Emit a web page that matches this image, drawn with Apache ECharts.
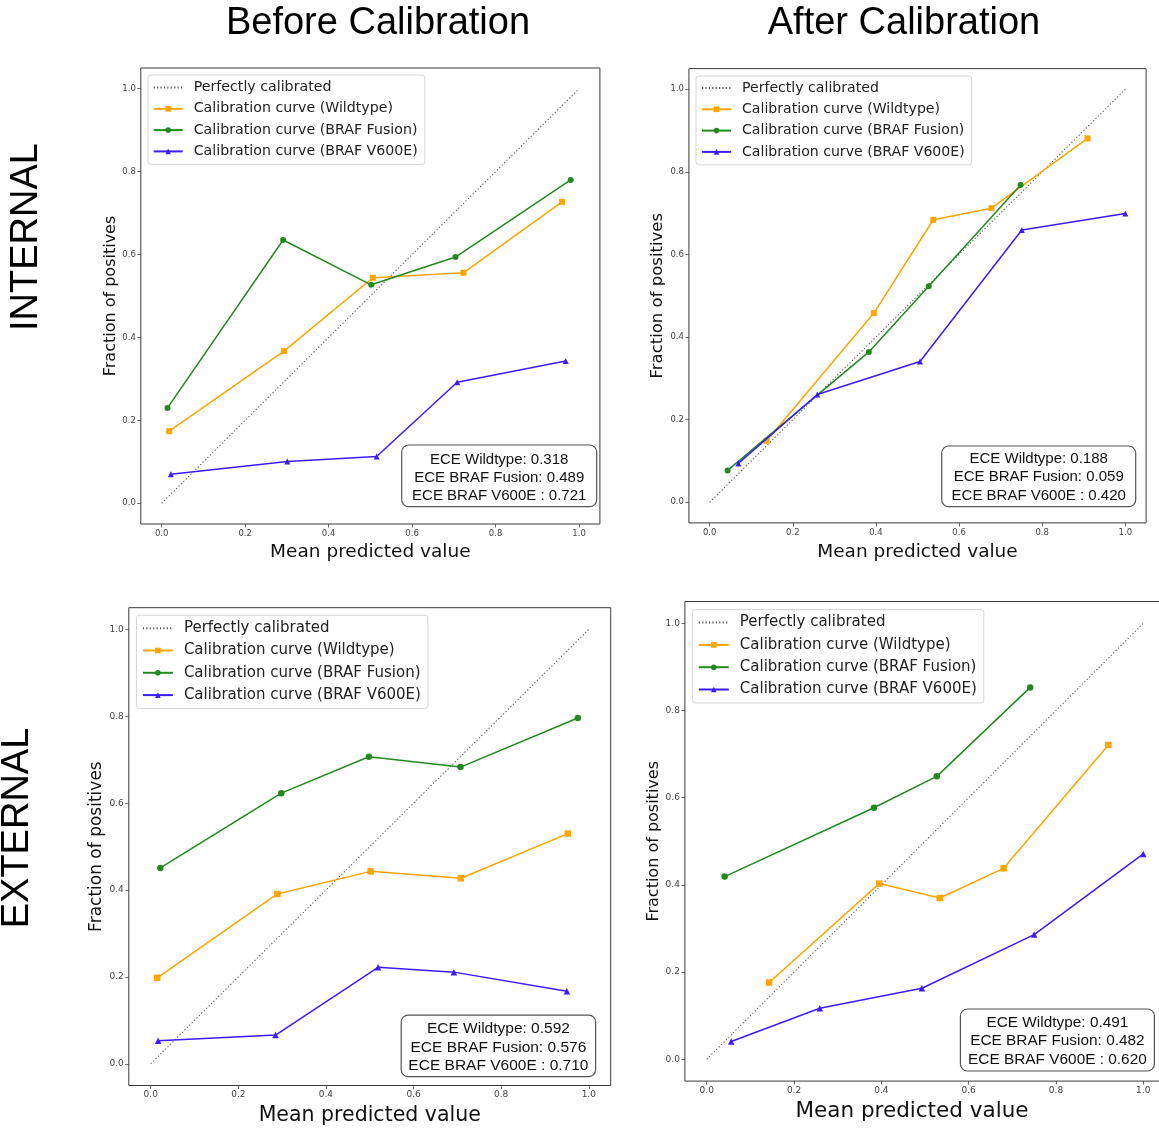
<!DOCTYPE html>
<html><head><meta charset="utf-8">
<script src="https://cdn.jsdelivr.net/npm/echarts@6/dist/echarts.min.js"></script>
<style>html,body{margin:0;padding:0;background:#fff;overflow:hidden}#c{width:1175px;height:1131px}</style>
</head><body><div id="c"></div>
<script>
// ---------- data ----------
const tickValues = [0, 0.2, 0.4, 0.6, 0.8, 1.0];
const seriesNames = ['Perfectly calibrated', 'Calibration curve (Wildtype)', 'Calibration curve (BRAF Fusion)', 'Calibration curve (BRAF V600E)'];
const columnTitles = ['Before Calibration', 'After Calibration'];
const rowTitles = ['INTERNAL', 'EXTERNAL'];
const xAxisName = 'Mean predicted value';
const yAxisName = 'Fraction of positives';
const perfectX = [0, 1];
const perfectY = [0, 1];

// Internal, before calibration
const intBeforeWildX = [0.018, 0.293, 0.506, 0.723, 0.959];
const intBeforeWildY = [0.174, 0.367, 0.544, 0.556, 0.727];
const intBeforeFusionX = [0.014, 0.291, 0.502, 0.704, 0.980];
const intBeforeFusionY = [0.230, 0.635, 0.527, 0.594, 0.780];
const intBeforeV600eX = [0.022, 0.301, 0.515, 0.708, 0.968];
const intBeforeV600eY = [0.070, 0.101, 0.113, 0.292, 0.343];
const intBeforeEce = ['ECE Wildtype: 0.318', 'ECE BRAF Fusion: 0.489', 'ECE BRAF V600E : 0.721'];

// Internal, after calibration
const intAfterWildX = [0.137, 0.395, 0.538, 0.678, 0.909];
const intAfterWildY = [0.149, 0.458, 0.684, 0.712, 0.881];
const intAfterFusionX = [0.043, 0.383, 0.527, 0.748];
const intAfterFusionY = [0.077, 0.364, 0.523, 0.768];
const intAfterV600eX = [0.069, 0.259, 0.506, 0.751, 1.0];
const intAfterV600eY = [0.094, 0.261, 0.341, 0.659, 0.699];
const intAfterEce = ['ECE Wildtype: 0.188', 'ECE BRAF Fusion: 0.059', 'ECE BRAF V600E : 0.420'];

// External, before calibration
const extBeforeWildX = [0.015, 0.289, 0.502, 0.708, 0.952];
const extBeforeWildY = [0.198, 0.391, 0.443, 0.427, 0.530];
const extBeforeFusionX = [0.022, 0.298, 0.498, 0.707, 0.975];
const extBeforeFusionY = [0.451, 0.623, 0.707, 0.683, 0.796];
const extBeforeV600eX = [0.017, 0.285, 0.519, 0.692, 0.950];
const extBeforeV600eY = [0.053, 0.066, 0.222, 0.211, 0.167];
const extBeforeEce = ['ECE Wildtype: 0.592', 'ECE BRAF Fusion: 0.576', 'ECE BRAF V600E : 0.710'];

// External, after calibration
const extAfterWildX = [0.143, 0.395, 0.534, 0.680, 0.920];
const extAfterWildY = [0.176, 0.403, 0.370, 0.438, 0.721];
const extAfterFusionX = [0.041, 0.383, 0.527, 0.741];
const extAfterFusionY = [0.419, 0.577, 0.649, 0.853];
const extAfterV600eX = [0.056, 0.259, 0.493, 0.750, 1.0];
const extAfterV600eY = [0.041, 0.117, 0.163, 0.286, 0.471];
const extAfterEce = ['ECE Wildtype: 0.491', 'ECE BRAF Fusion: 0.482', 'ECE BRAF V600E : 0.620'];

// ---------- layout / styling ----------
const zip = (xs, ys) => xs.map((x, i) => [x, ys[i]]);
const COLORS = ['#555555', '#ffa500', '#23891f', '#3b1cff'];
const SYMBOLS = ['none', 'rect', 'circle', 'triangle'];
const DEJAVU = '"DejaVu Sans", sans-serif';
const ARIAL = '"Liberation Sans", Arial, sans-serif';

const panels = [
  { grid: { left: 140.8, top: 68, width: 459.1, height: 456 }, tick: 8.5, xName: 18.5, yName: 16, xGap: 18.5, yGap: 20, xShift: 0,
    leg: { left: 148, top: 75, font: 14.2, row: 21.3, lh: 15, iw: 29, pad: [5, 7, 5.5, 4.7] },
    box: { x: 401.7, y: 445, w: 195, h: 61.7, cx: 499.2, lines: [460, 477.7, 495.7], font: 15 },
    sym: 6, ece: intBeforeEce,
    data: [[perfectX, perfectY], [intBeforeWildX, intBeforeWildY], [intBeforeFusionX, intBeforeFusionY], [intBeforeV600eX, intBeforeV600eY]] },
  { grid: { left: 688.9, top: 68.6, width: 457.2, height: 454.3 }, tick: 8.5, xName: 18.5, yName: 16.5, xGap: 19.5, yGap: 21, xShift: 0,
    leg: { left: 696, top: 76, font: 14.1, row: 21.3, lh: 15, iw: 29, pad: [4.5, 7, 5.5, 5] },
    box: { x: 941.7, y: 446, w: 194, h: 60.7, cx: 1038.7, lines: [459, 477.3, 496], font: 15 },
    sym: 6, ece: intAfterEce,
    data: [[perfectX, perfectY], [intAfterWildX, intAfterWildY], [intAfterFusionX, intAfterFusionY], [intAfterV600eX, intAfterV600eY]] },
  { grid: { left: 128.8, top: 607.7, width: 481.9, height: 477.8 }, tick: 9, xName: 20.5, yName: 17, xGap: 19.5, yGap: 24, xShift: 0,
    leg: { left: 136.5, top: 615.2, font: 15, row: 22.3, lh: 16, iw: 30, pad: [5, 7, 5.5, 5.4] },
    box: { x: 401.2, y: 1015.1, w: 194.4, h: 61.6, cx: 498.4, lines: [1028.7, 1047.3, 1065.9], font: 15.5 },
    sym: 6.5, ece: extBeforeEce,
    data: [[perfectX, perfectY], [extBeforeWildX, extBeforeWildY], [extBeforeFusionX, extBeforeFusionY], [extBeforeV600eX, extBeforeV600eY]] },
  { grid: { left: 684.9, top: 601.5, width: 480.2, height: 479.6 }, tick: 9, xName: 21.5, yName: 16, xGap: 19.5, yGap: 23, xShift: 26,
    leg: { left: 692.4, top: 609.6, font: 15, row: 22.3, lh: 16, iw: 30, pad: [5, 7, 5.5, 5.4] },
    box: { x: 960.4, y: 1009, w: 194, h: 62, cx: 1057.4, lines: [1022.5, 1041, 1059.5], font: 15.4 },
    sym: 6.5, ece: extAfterEce,
    data: [[perfectX, perfectY], [extAfterWildX, extAfterWildY], [extAfterFusionX, extAfterFusionY], [extAfterV600eX, extAfterV600eY]] }
];

const grids = [], xAxes = [], yAxes = [], series = [], legends = [], graphics = [];
const fmt = v => v.toFixed(1);

panels.forEach((p, i) => {
  grids.push(Object.assign({ show: true, borderColor: '#3a3a3a', borderWidth: 1, backgroundColor: '#fff', containLabel: false }, p.grid));
  const axisCommon = {
    type: 'value', min: -0.05, max: 1.05, gridIndex: i,
    splitLine: { show: false },
    axisLine: { show: false, onZero: false },
    axisTick: { show: true, inside: false, length: 3.5, customValues: tickValues, lineStyle: { color: '#444', width: 0.8 } },
    axisLabel: { show: true, customValues: tickValues, formatter: fmt, color: '#444', fontFamily: DEJAVU, fontSize: p.tick, margin: 5 },
    nameLocation: 'middle'
  };
  xAxes.push(Object.assign({}, axisCommon, { name: xAxisName, nameGap: p.xGap,
    nameTextStyle: { fontFamily: DEJAVU, fontSize: p.xName, color: '#111', padding: [0, p.xShift, 0, 0] } }));
  yAxes.push(Object.assign({}, axisCommon, { name: yAxisName, nameGap: p.yGap, nameTextStyle: { fontFamily: DEJAVU, fontSize: p.yName, color: '#111' } }));

  p.data.forEach((d, k) => {
    const s = {
      type: 'line', name: seriesNames[k], xAxisIndex: i, yAxisIndex: i,
      data: zip(d[0], d[1]), animation: false, silent: true,
      symbol: SYMBOLS[k], symbolSize: p.sym, showSymbol: k !== 0,
      lineStyle: { color: COLORS[k], width: 1.5 },
      itemStyle: { color: COLORS[k] },
      z: 2 + k
    };
    if (k === 0) {
      s.lineStyle = { color: COLORS[0], width: 1.1, type: [1.2, 2.2] };
      s.itemStyle = { color: 'rgba(0,0,0,0)' };
      s.z = 1;
    }
    series.push(s);
  });

  legends.push({
    orient: 'vertical', left: p.leg.left, top: p.leg.top,
    data: seriesNames, selectedMode: false,
    itemWidth: p.leg.iw, itemHeight: 7, itemGap: p.leg.row - p.leg.lh,
    padding: p.leg.pad,
    backgroundColor: 'rgba(255,255,255,0.85)', borderColor: '#d6d6d6', borderWidth: 1, borderRadius: 3,
    textStyle: { fontFamily: DEJAVU, fontSize: p.leg.font, color: '#222', lineHeight: p.leg.lh, padding: [0, 0, 0, 6] }
  });

  graphics.push({ type: 'rect', z: 100, shape: { x: p.box.x, y: p.box.y, width: p.box.w, height: p.box.h, r: 7 },
    style: { fill: '#fff', stroke: '#555', lineWidth: 1.2 } });
  p.ece.forEach((t, j) => {
    graphics.push({ type: 'text', z: 101, x: p.box.cx, y: p.box.lines[j],
      style: { text: t, fill: '#111', font: p.box.font + 'px ' + ARIAL, textAlign: 'center', textVerticalAlign: 'middle' } });
  });
});

graphics.push({ type: 'text', x: 378, y: 24, style: { text: columnTitles[0], fill: '#000', font: '38px ' + ARIAL, textAlign: 'center', textVerticalAlign: 'middle' } });
graphics.push({ type: 'text', x: 904, y: 24, style: { text: columnTitles[1], fill: '#000', font: '38px ' + ARIAL, textAlign: 'center', textVerticalAlign: 'middle' } });
graphics.push({ type: 'text', x: 27, y: 237, rotation: Math.PI / 2, style: { text: rowTitles[0], fill: '#000', font: '38px ' + ARIAL, textAlign: 'center', textVerticalAlign: 'middle' } });
graphics.push({ type: 'text', x: 18, y: 828, rotation: Math.PI / 2, style: { text: rowTitles[1], fill: '#000', font: '38px ' + ARIAL, textAlign: 'center', textVerticalAlign: 'middle' } });

const chart = echarts.init(document.getElementById('c'), null, { renderer: 'canvas', width: 1175, height: 1131 });
chart.setOption({
  animation: false,
  backgroundColor: '#fff',
  grid: grids, xAxis: xAxes, yAxis: yAxes, series: series, legend: legends,
  graphic: { elements: graphics }
});
</script>
</body></html>
